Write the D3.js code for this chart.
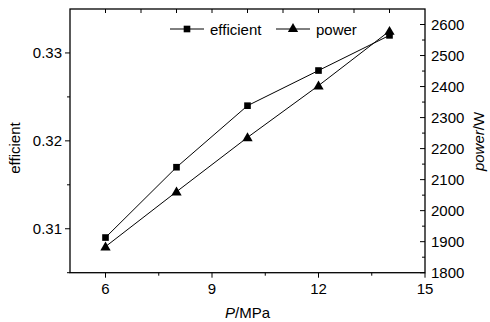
<!DOCTYPE html>
<html><head><meta charset="utf-8">
<script src="https://cdn.jsdelivr.net/npm/d3@7"></script>
<style>body{margin:0;background:#fff}svg{display:block}text{font-family:"Liberation Sans",Arial,sans-serif;fill:#000}</style>
</head><body>
<svg id="c" width="490" height="322"></svg>
<script>
const pressure = [6, 8, 10, 12, 14];
const efficient = [0.3090, 0.3170, 0.3240, 0.3280, 0.3320];
const power = [1884, 2061, 2236, 2403, 2579];
const xTicks = [6, 9, 12, 15];
const effTicks = [0.31, 0.32, 0.33];
const powTicks = [1800, 1900, 2000, 2100, 2200, 2300, 2400, 2500, 2600];

const svg = d3.select("#c");
const L = 70, R = 425, T = 9, B = 272.7;
const x = d3.scaleLinear().domain([5, 15]).range([L, R]);
const yE = d3.scaleLinear().domain([0.305, 0.335]).range([B, T]);
const yP = d3.scaleLinear().domain([1800, 2650]).range([B, T]);
const fs = 15;

// frame
svg.append("rect").attr("x", L).attr("y", T).attr("width", R - L).attr("height", B - T)
  .attr("fill", "none").attr("stroke", "#000").attr("stroke-width", 1.3);

const g = svg.append("g").attr("stroke", "#000").attr("stroke-width", 1);
// bottom ticks
d3.range(6, 15.01, 1.5).forEach(v => {
  const major = xTicks.includes(v);
  g.append("line").attr("x1", x(v)).attr("x2", x(v)).attr("y1", B).attr("y2", B + (major ? 5 : 3));
});
xTicks.forEach(v => svg.append("text").attr("x", x(v)).attr("y", 294).attr("text-anchor", "middle")
  .attr("font-size", fs).text(v));
// top ticks
d3.range(6, 15, 1).forEach(v => {
  g.append("line").attr("x1", x(v)).attr("x2", x(v)).attr("y1", T).attr("y2", T + 4);
});
// left ticks
[0.305, 0.31, 0.315, 0.32, 0.325, 0.33].forEach(v => {
  const major = effTicks.some(t => Math.abs(t - v) < 1e-9);
  g.append("line").attr("x1", L).attr("x2", L - (major ? 5 : 3)).attr("y1", yE(v)).attr("y2", yE(v));
});
effTicks.forEach(v => svg.append("text").attr("x", 62).attr("y", yE(v) + 5.5).attr("text-anchor", "end")
  .attr("font-size", fs).text(d3.format(".2f")(v)));
// right ticks
d3.range(1800, 2601, 50).forEach(v => {
  const major = powTicks.includes(v);
  g.append("line").attr("x1", R).attr("x2", R - (major ? 5 : 3)).attr("y1", yP(v)).attr("y2", yP(v));
});
powTicks.forEach(v => svg.append("text").attr("x", 431).attr("y", yP(v) + 5.5).attr("text-anchor", "start")
  .attr("font-size", fs).text(v));

// axis titles
svg.append("text").attr("transform", "translate(20,148) rotate(-90)").attr("text-anchor", "middle")
  .attr("font-size", fs).text("efficient");
const xt = svg.append("text").attr("x", (L + R) / 2).attr("y", 318).attr("text-anchor", "middle").attr("font-size", fs);
xt.append("tspan").attr("font-style", "italic").text("P");
xt.append("tspan").text("/MPa");
const yt = svg.append("text").attr("transform", "translate(484,141.5) rotate(-90)").attr("text-anchor", "middle").attr("font-size", fs);
yt.append("tspan").attr("font-style", "italic").text("power");
yt.append("tspan").text("/W");

// lines
const lineE = d3.line().x((d, i) => x(pressure[i])).y(d => yE(d));
const lineP = d3.line().x((d, i) => x(pressure[i])).y(d => yP(d));
svg.append("path").attr("d", lineE(efficient)).attr("fill", "none").attr("stroke", "#000").attr("stroke-width", 1);
svg.append("path").attr("d", lineP(power)).attr("fill", "none").attr("stroke", "#000").attr("stroke-width", 1);

const sq = d3.symbol().type(d3.symbolSquare).size(44);
const tri = d3.symbol().type(d3.symbolTriangle).size(46);
efficient.forEach((v, i) => svg.append("path").attr("d", sq()).attr("transform", `translate(${x(pressure[i])},${yE(v)})`).attr("fill", "#000"));
power.forEach((v, i) => svg.append("path").attr("d", tri()).attr("transform", `translate(${x(pressure[i])},${yP(v) + 0.8})`).attr("fill", "#000"));

// legend
const ly = 29;
const leg = [{sym: sq, label: "efficient", x0: 170}, {sym: tri, label: "power", x0: 276}];
leg.forEach(l => {
  svg.append("line").attr("x1", l.x0).attr("x2", l.x0 + 34).attr("y1", ly).attr("y2", ly).attr("stroke", "#000").attr("stroke-width", 1);
  svg.append("path").attr("d", l.sym()).attr("transform", `translate(${l.x0 + 17},${ly})`).attr("fill", "#000");
  svg.append("text").attr("x", l.x0 + 40).attr("y", ly + 5.5).attr("font-size", fs).text(l.label);
});
</script>
</body></html>
